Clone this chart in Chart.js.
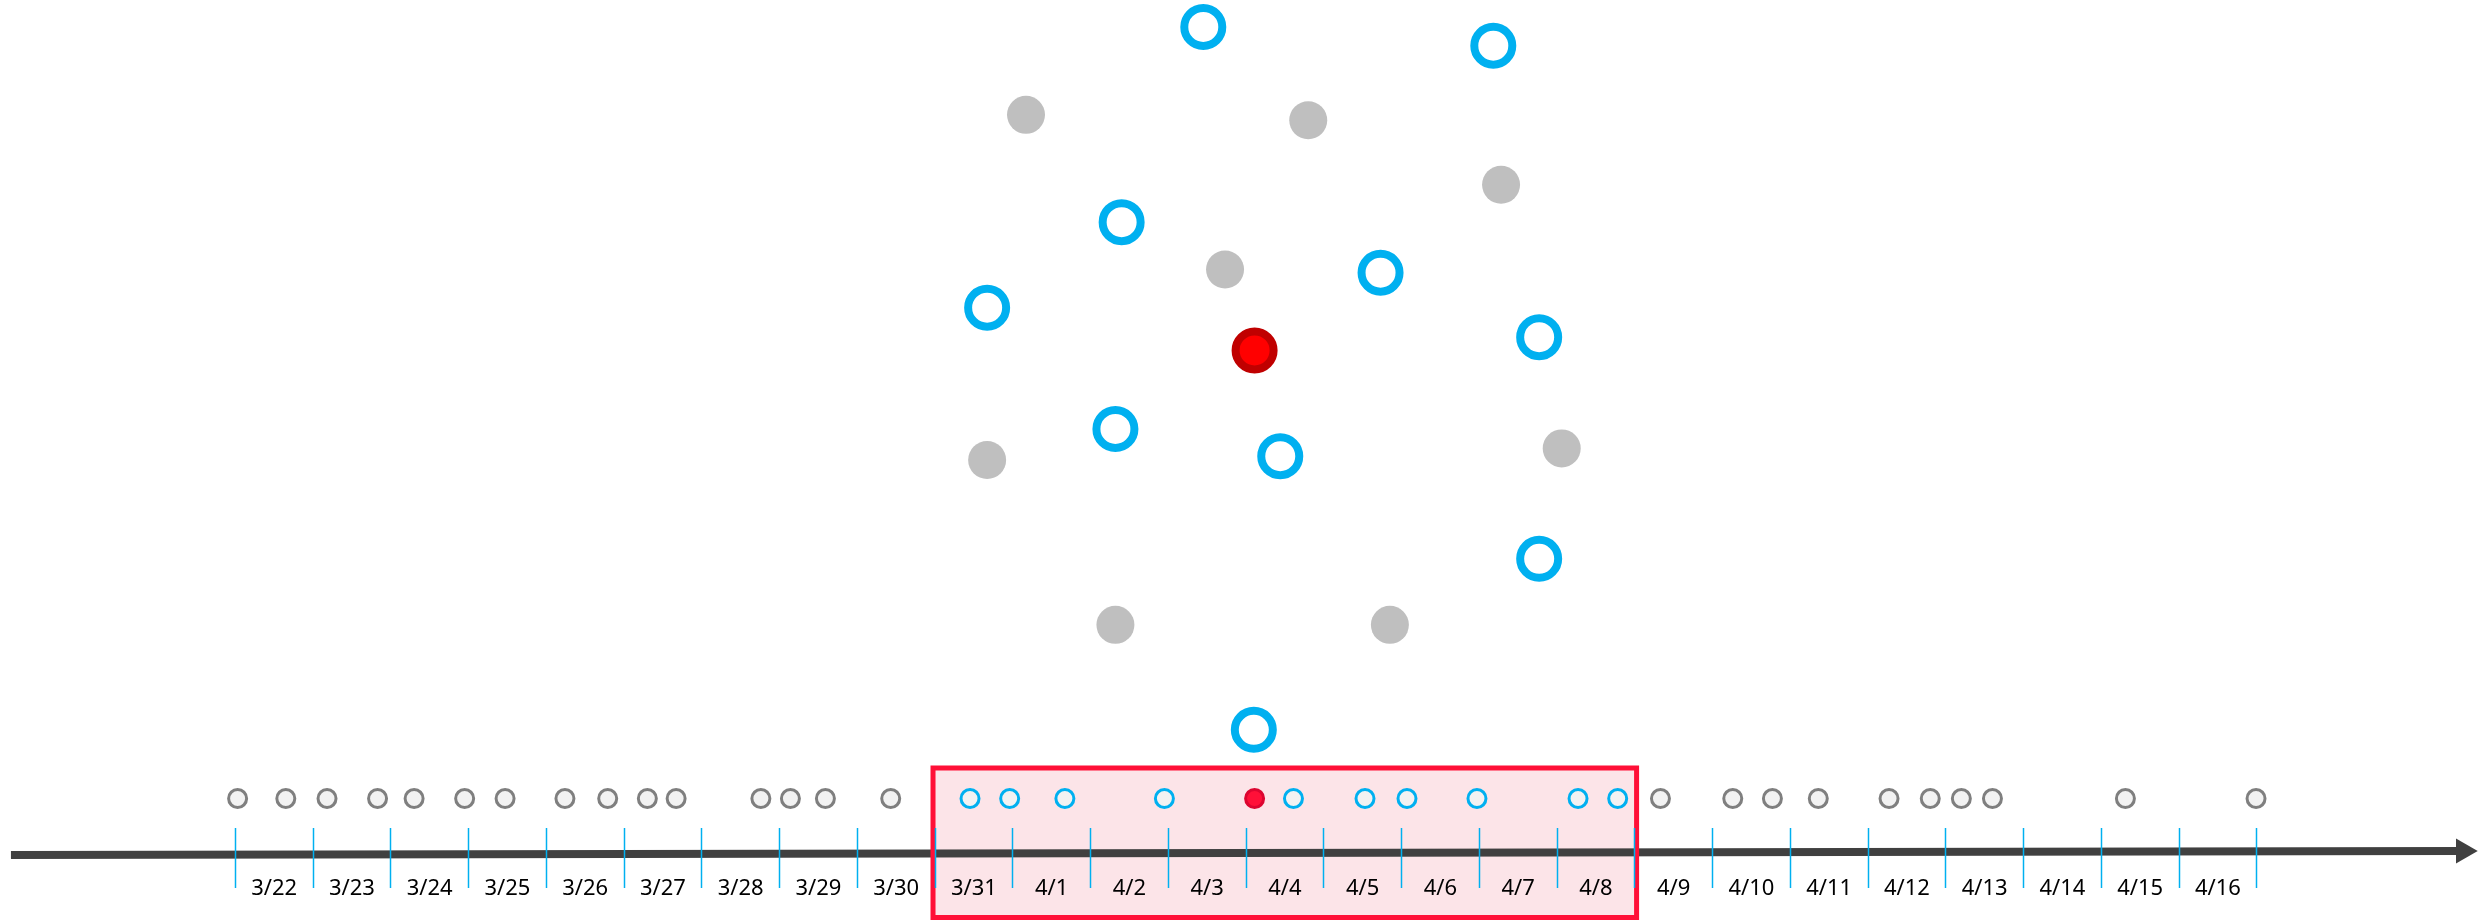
<!DOCTYPE html>
<html>
<head>
<meta charset="utf-8">
<script src="https://cdn.jsdelivr.net/npm/chart.js@4.4.0/dist/chart.umd.min.js"></script>
<style>
  html, body { margin: 0; padding: 0; background: #fff; }
  #wrap { width: 2484px; height: 920px; }
</style>
</head>
<body>
<div id="wrap"><canvas id="chart_dest"></canvas></div>
<script>
// x is in days (0 = start of 3/22), y in the same unit above the timeline
var dayLabels = ["3/22","3/23","3/24","3/25","3/26","3/27","3/28","3/29","3/30","3/31",
  "4/1","4/2","4/3","4/4","4/5","4/6","4/7","4/8","4/9","4/10","4/11","4/12","4/13","4/14","4/15","4/16"];

// small dots sitting on the timeline
var dotLevel = 0.727;
var grayDotX = [0.03, 0.65, 1.18, 1.83, 2.30, 2.95, 3.47, 4.24, 4.79, 5.30, 5.67, 6.76, 7.14, 7.59, 8.43,
  18.33, 19.26, 19.77, 20.36, 21.27, 21.80, 22.20, 22.60, 24.31, 25.99];
var blueDotX = [9.45, 9.96, 10.67, 11.95, 13.61, 14.53, 15.07, 15.97, 17.27, 17.78];
var redDotX = [13.11];

// the scattered cloud above
var cloudBlueX = [12.45, 16.18, 11.40, 14.73, 9.67, 16.77, 11.32, 13.44, 16.77, 13.10];
var cloudBlueY = [10.65, 10.41, 8.14, 7.49, 7.04, 6.66, 5.48, 5.13, 3.81, 1.61];
var cloudGrayX = [10.17, 13.80, 16.28, 12.73, 9.67, 17.06, 11.32, 14.85];
var cloudGrayY = [9.52, 9.45, 8.62, 7.53, 5.08, 5.23, 2.96, 2.96];
var cloudRedX = [13.11];
var cloudRedY = [6.49];

// highlighted window (3/31 .. 4/8) and the arrow axis
var windowX = [8.974, 18.023];
var windowY = [-0.804, 1.119];
var axisX = [-2.885, 28.6];
var axisY = [0, 0.05];
var arrowTip = {x: 28.655, y: 0.051};

function pts(xs, ys) {
  return xs.map(function (x, i) { return {x: x, y: ys[i]}; });
}
function level(xs, y) {
  return xs.map(function (x) { return {x: x, y: y}; });
}

var rect = [
  {x: windowX[0], y: windowY[1]}, {x: windowX[1], y: windowY[1]},
  {x: windowX[1], y: windowY[0]}, {x: windowX[0], y: windowY[0]},
  {x: windowX[0], y: windowY[1]}, {x: windowX[1], y: windowY[1]}
];

var data = {
  datasets: [
    {
      type: 'line', data: rect, order: 4,
      borderColor: '#FF1037', borderWidth: 5, backgroundColor: '#FCE4E8',
      fill: 'shape', pointRadius: 0, tension: 0, borderJoinStyle: 'miter'
    },
    {
      type: 'line', data: pts(axisX, axisY), order: 5,
      borderColor: '#404040', borderWidth: 8, pointRadius: 0, fill: false, tension: 0
    },
    {
      data: [arrowTip], order: 3,
      pointStyle: 'triangle', rotation: 90, pointRadius: 14.5,
      backgroundColor: '#404040', borderWidth: 0
    },
    {
      data: level(grayDotX, dotLevel), order: 1,
      pointRadius: 9, borderWidth: 3, borderColor: '#7F7F7F', backgroundColor: '#F2F2F2'
    },
    {
      data: level(blueDotX, dotLevel), order: 1,
      pointRadius: 9, borderWidth: 3, borderColor: '#00B0F0', backgroundColor: '#F2F2F2'
    },
    {
      data: level(redDotX, dotLevel), order: 1,
      pointRadius: 9, borderWidth: 3, borderColor: '#DC0530', backgroundColor: '#FF1038'
    },
    {
      data: pts(cloudGrayX, cloudGrayY), order: 1,
      pointRadius: 19, borderWidth: 0, backgroundColor: '#BFBFBF'
    },
    {
      data: pts(cloudBlueX, cloudBlueY), order: 1,
      pointRadius: 19, borderWidth: 8, borderColor: '#00B0F0', backgroundColor: '#FFFFFF'
    },
    {
      data: pts(cloudRedX, cloudRedY), order: 1,
      pointRadius: 19, borderWidth: 8, borderColor: '#C00000', backgroundColor: '#FF0000'
    }
  ]
};

var options = {
  responsive: true,
  maintainAspectRatio: false,
  animation: false,
  layout: { padding: 0, autoPadding: false },
  plugins: {
    legend: { display: false },
    tooltip: { enabled: false },
    filler: { drawTime: 'beforeDatasetsDraw' }
  },
  scales: {
    x: {
      type: 'linear',
      min: -3.026, max: 28.922,
      position: { y: 0.347 },
      border: { display: false, z: 1 },
      grid: {
        display: true, drawOnChartArea: false, drawTicks: true, offset: true, z: 1,
        tickLength: 60, tickColor: '#00B0F0', tickWidth: 1.5
      },
      afterBuildTicks: function (scale) {
        scale.ticks = dayLabels.map(function (l, i) { return {value: i + 0.5}; });
      },
      ticks: {
        z: 1,
        autoSkip: false, maxRotation: 0, minRotation: 0,
        padding: -12,
        color: '#000000',
        font: { family: 'Noto Sans', size: 22, lineHeight: 1.2 },
        callback: function (value, index) { return dayLabels[index]; }
      }
    },
    y: {
      type: 'linear',
      min: -0.836, max: 10.997,
      display: false
    }
  }
};

var ctx = document.getElementById("chart_dest");
var timelineChart = new Chart(ctx, {
  type: 'scatter',
  data: data,
  options: options
});
</script>
</body>
</html>
